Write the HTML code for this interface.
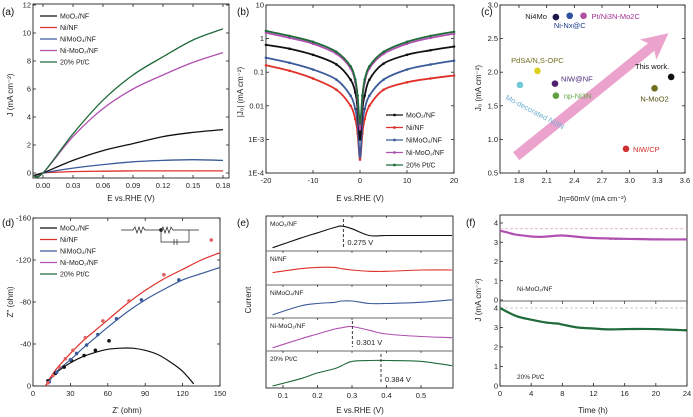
<!DOCTYPE html>
<html><head><meta charset="utf-8"><style>
html,body{margin:0;padding:0;background:#fff}
svg{display:block;font-family:"Liberation Sans",sans-serif}
</style></head><body>
<svg id="fig" width="693" height="417" viewBox="0 0 693 417" xmlns="http://www.w3.org/2000/svg"></svg>
<script>
// ---------- DATA ----------
// (a) LSV
const aX=[-0.01,0,0.03,0.06,0.09,0.12,0.15,0.18];
const aPtC=[-0.2,0,2.8,5.2,7.0,8.3,9.5,10.3];
const aNiMoO2=[-0.2,0,2.6,4.6,6.0,7.0,7.9,8.6];
const aMoO2=[-0.2,0,0.9,1.6,2.1,2.6,2.9,3.1];
const aNiMoO2NF=[-0.2,0,0.35,0.6,0.8,0.9,0.95,0.9];
const aNiNF=[-0.2,0,0.1,0.13,0.15,0.15,0.15,0.15];
const aXTicks=[0,0.03,0.06,0.09,0.12,0.15,0.18];
const aXLabels=["0.00","0.03","0.06","0.09","0.12","0.15","0.18"];
const aYTicks=[0,2,4,6,8,10,12];
// (b) log
const bX=[-20,-15,-10,-5,-2,-1,-0.5,0,0.5,1,2,5,10,15,20];
const bPtC=[1.7,1.2,0.8,0.4,0.15,0.06,0.02,0.003,0.02,0.06,0.15,0.4,0.8,1.2,1.6];
const bNiMoO2=[1.5,1.05,0.7,0.35,0.13,0.05,0.015,0.002,0.015,0.05,0.13,0.35,0.7,1.05,1.4];
const bMoO2=[0.65,0.5,0.33,0.17,0.06,0.025,0.008,0.001,0.008,0.02,0.06,0.18,0.33,0.45,0.58];
const bNiMoO2NF=[0.27,0.19,0.12,0.06,0.02,0.008,0.003,0.0003,0.003,0.008,0.02,0.06,0.12,0.17,0.22];
const bNiNF=[0.16,0.11,0.065,0.03,0.01,0.004,0.0015,0.00025,0.0015,0.004,0.01,0.03,0.05,0.065,0.08];
const bXTicks=[-20,-10,0,10,20];
const bYTicks=[10,1,0.1,0.01,0.001,0.0001];
const bYLabels=["10","1","0.1","0.01","1E-3","1E-4"];
// (c) scatter
const cNames=["Ni4Mo","Ni-Nx@C","Pt/Ni3N-Mo2C","PdSA/N,S-OPC","NiW@NF","Mo-decorated Ni3N","np-Ni3N","This work.","N-MoO2","NiW/CP"];
const cXv=[2.2,2.35,2.5,2.0,2.19,1.81,2.2,3.45,3.27,2.96];
const cYv=[2.82,2.84,2.84,2.02,1.83,1.81,1.65,1.93,1.76,0.86];
const cArrowX=[1.77,3.42];
const cArrowY=[0.75,2.58];
const cXTicks=[1.8,2.1,2.4,2.7,3.0,3.3,3.6];
const cYTicks=[0.5,1.0,1.5,2.0,2.5,3.0];
// (d) Nyquist
const dFitX=[10,15,20,30,40,50,60,75,90,105,120,135,150];
const dFitRed=[0,-10,-18,-31,-43,-53,-63,-78,-91,-102,-111,-120,-127];
const dFitBlue=[0,-8,-15,-25,-36,-46,-56,-70,-82,-92,-101,-107,-113];
const dBlkX=[10,15,20,30,40,50,60,70,80,90,100,110,120,129];
const dBlkY=[0,-8,-14,-22,-28,-32,-35,-36,-36,-34,-30,-23,-14,-2];
const dMoX=[12,18,25,31,41,50,61];
const dMoY=[-5,-12,-18,-24,-29,-34,-43];
const dRedX=[12,16,21,26,32,42,56,77,105,143];
const dRedY=[-3,-10,-18,-26,-34,-46,-62,-81,-106,-139];
const dBlueX=[13,19,30,35,43,52,67,87,117];
const dBlueY=[-4,-13,-25,-31,-39,-49,-64,-82,-101];
const dXTicks=[0,30,60,90,120,150];
const dYTicks=[0,-40,-80,-120,-160];
// (e) CV stack
const eX=[0.07,0.15,0.2,0.25,0.27,0.3,0.35,0.4,0.5,0.59];
const eMoO2=[0.05,0.4,0.6,0.8,0.85,0.75,0.5,0.5,0.5,0.5];
const eNiNF=[0.4,0.55,0.6,0.6,0.55,0.5,0.45,0.45,0.5,0.5];
const eNiMoO2NF=[0.05,0.4,0.5,0.55,0.6,0.6,0.5,0.5,0.55,0.65];
const eNiMoO2=[0.05,0.4,0.6,0.8,0.85,0.9,0.75,0.6,0.5,0.45];
const ePtC=[0.0,0.25,0.45,0.6,0.7,0.85,0.88,0.88,0.85,0.7];
const ePeaks=[0.275,0.301,0.384];
const eXTicks=[0.1,0.2,0.3,0.4,0.5];
// (f) stability
const fT1=[0,1,2,4,5,6,8,10,12,16,20,24];
const fJ1=[3.6,3.5,3.4,3.3,3.28,3.3,3.35,3.28,3.22,3.18,3.15,3.15];
const fT2=[0,2,4,6,7.5,8,10,12,14,16,20,24];
const fJ2=[4.0,3.6,3.4,3.25,3.2,3.15,3.0,2.95,2.9,2.92,2.92,2.85];
const fXTicks=[0,4,8,12,16,20,24];
const fYTicks=[0,1,2,3,4];

// ---------- HELPERS ----------
const NS="http://www.w3.org/2000/svg";
const svg=document.getElementById('fig');
function mk(tag,attrs,parent){const e=document.createElementNS(NS,tag);for(const k in attrs)e.setAttribute(k,attrs[k]);(parent||svg).appendChild(e);return e;}
function txt(x,y,s,size,anchor,fill,parent){const t=mk('text',{x:x,y:y,'font-size':size,'text-anchor':anchor||'start',fill:fill||'#222'},parent);t.textContent=s;return t;}
function lin(d0,d1,r0,r1){return v=>r0+(v-d0)*(r1-r0)/(d1-d0);}
function poly(xs,ys,sx,sy,color,w,parent,name){
const P=xs.map((x,i)=>[sx(x),sy(ys[i])]);
let d='M'+P[0][0].toFixed(1)+','+P[0][1].toFixed(1);
for(let i=0;i<P.length-1;i++){const p0=P[i-1]||P[i],p1=P[i],p2=P[i+1],p3=P[i+2]||p2;
const c1=[p1[0]+(p2[0]-p0[0])/6,p1[1]+(p2[1]-p0[1])/6],c2=[p2[0]-(p3[0]-p1[0])/6,p2[1]-(p3[1]-p1[1])/6];
d+=' C'+c1.map(v=>v.toFixed(1)).join(',')+' '+c2.map(v=>v.toFixed(1)).join(',')+' '+p2.map(v=>v.toFixed(1)).join(',');}
const e=mk('path',{d:d,fill:'none',stroke:color,'stroke-width':w||1.2},parent);

return e;}
function box(x0,y0,x1,y1,name){const r=mk('rect',{x:x0,y:y0,width:x1-x0,height:y1-y0,fill:'none',stroke:'#222','stroke-width':0.9});}
function xt(ticks,labels,sx,yb,ytop){ticks.forEach((t,i)=>{const x=sx(t);mk('line',{x1:x,y1:yb,x2:x,y2:yb-3,stroke:'#222','stroke-width':0.8});if(ytop!==undefined)mk('line',{x1:x,y1:ytop,x2:x,y2:ytop+3,stroke:'#222','stroke-width':0.8});const l=txt(x,yb+10,labels?labels[i]:String(t),7.5,'middle');});}
function yt(ticks,labels,sy,xl,xr){ticks.forEach((t,i)=>{const y=sy(t);mk('line',{x1:xl,y1:y,x2:xl+3,y2:y,stroke:'#222','stroke-width':0.8});if(xr!==undefined)mk('line',{x1:xr,y1:y,x2:xr-3,y2:y,stroke:'#222','stroke-width':0.8});const l=txt(xl-2,y+2.5,labels?labels[i]:String(t),7.5,'end');});}
function plabel(x,y,s){const t=txt(x,y,s,10,'start','#111');}
function legend(x,y,items,dy){items.forEach((it,i)=>{const g=mk('g',{});mk('line',{x1:x,y1:y+i*dy,x2:x+17,y2:y+i*dy,stroke:it[1],'stroke-width':1.3},g);if(it[2])mk('circle',{cx:x+8.5,cy:y+i*dy,r:1.4,fill:it[1]},g);txt(x+20,y+i*dy+2.5,it[0],7,'start','#222',g);});}
const C={blk:'#111',red:'#e0302a',blue:'#3a5a9a',pink:'#b050b0',green:'#1f6b3a'};

// ---------- (a) ----------
{const sx=lin(0,0.18,43,223),sy=lin(0,12,173,5);
box(33,4,229,178,'plot-area-a');
xt(aXTicks,aXLabels,sx,178,4);yt(aYTicks,null,sy,33,229);
poly(aX,aNiNF,sx,sy,C.red,1.3,null,'series-ni-nf');
poly(aX,aNiMoO2NF,sx,sy,C.blue,1.3,null,'series-nimoo4-nf');
poly(aX,aMoO2,sx,sy,C.blk,1.3,null,'series-moo2-nf');
poly(aX,aNiMoO2,sx,sy,C.pink,1.3,null,'series-ni-moo2-nf');
poly(aX,aPtC,sx,sy,C.green,1.3,null,'series-ptc');
legend(40,16,[["MoO\u2082/NF",C.blk],["Ni/NF",C.red],["NiMoO\u2084/NF",C.blue],["Ni-MoO\u2082/NF",C.pink],["20% Pt/C",C.green]],11.5);
plabel(2,15,'(a)');
const t=txt(131,201,'E vs.RHE (V)',8,'middle');
const y=txt(13,95,'J (mA cm\u207B\u00B2)',8,'middle');y.setAttribute('transform','rotate(-90 13 95)');}

// ---------- (b) ----------
{const sx=lin(-20,20,266,454),lg=lin(1,-4,5,173),sy=v=>lg(Math.log10(v));
box(266,5,454,173,'plot-area-b');
xt(bXTicks,null,sx,173,5);yt(bYTicks,bYLabels,sy,266,454);
[[bNiNF,C.red,'series-ni-nf'],[bNiMoO2NF,C.blue,'series-nimoo4-nf'],[bMoO2,C.blk,'series-moo2-nf'],[bNiMoO2,C.pink,'series-ni-moo2-nf'],[bPtC,C.green,'series-ptc']].forEach(s=>{
poly(bX,s[0],sx,sy,s[1],1.8,null,s[2]);
bX.forEach((x,i)=>{const c=mk('circle',{cx:sx(x),cy:sy(s[0][i]),r:1.3,fill:s[1]});});});
legend(386,115,[["MoO\u2082/NF",C.blk,1],["Ni/NF",C.red,1],["NiMoO\u2084/NF",C.blue,1],["Ni-MoO\u2082/NF",C.pink,1],["20% Pt/C",C.green,1]],12.5);
plabel(237,15,'(b)');
const t=txt(360,201,'E vs.RHE (V)',8,'middle');
const y=txt(243,92,'|J\u2080| (mA cm\u207B\u00B2)',8,'middle');y.setAttribute('transform','rotate(-90 243 92)');}

// ---------- (c) ----------
{const sx=lin(1.8,3.6,519,685),sy=lin(0.5,3.0,173,5);
box(500,5,685,173,'plot-area-c');
xt(cXTicks,cXTicks.map(v=>v.toFixed(1)),sx,173,5);yt(cYTicks,cYTicks.map(v=>v.toFixed(1)),sy,500,685);
const x0=sx(cArrowX[0]),y0=sy(cArrowY[0]),x1=sx(cArrowX[1]),y1=sy(cArrowY[1]);
const L=Math.hypot(x1-x0,y1-y0),ux=(x1-x0)/L,uy=(y1-y0)/L,nx=-uy,ny=ux;
const hw=5,hh=22,hb=13;
const bx=x1-ux*hh,by=y1-uy*hh;
const pts=[[x0+nx*hw,y0+ny*hw],[bx+nx*hw,by+ny*hw],[bx-ux*4+nx*hb,by-uy*4+ny*hb],[x1,y1],[bx-ux*4-nx*hb,by-uy*4-ny*hb],[bx-nx*hw,by-ny*hw],[x0-nx*hw,y0-ny*hw]];
const ar=mk('polygon',{points:pts.map(p=>p[0].toFixed(1)+','+p[1].toFixed(1)).join(' '),fill:'#e070b0','fill-opacity':0.65});

const cols=['#1a1a4a','#3050a0','#b050a0','#e0d020','#502070','#70c8d8','#60a040','#111','#707020','#d03030'];
const lab=[[-9,2,'end','#222'],[0,12,'middle','#1a3a8a'],[8,3,'start','#a03090'],[0,-8,'middle','#707020'],[6,-2,'start','#503080'],[-15,14,'start','#70b0d0'],[8,3,'start','#60a040'],[-2,-8,'end','#111'],[0,13,'middle','#505010'],[7,3,'start','#d03030']];
cNames.forEach((n,i)=>{const g=mk('g',{});
mk('circle',{cx:sx(cXv[i]),cy:sy(cYv[i]),r:3.3,fill:cols[i]},g);
const l=lab[i];const t=txt(sx(cXv[i])+l[0],sy(cYv[i])+l[1],n,7.5,l[2],l[3],g);if(i==5)t.setAttribute('transform','rotate(28 '+(sx(cXv[i])+l[0])+' '+(sy(cYv[i])+l[1])+')');});
plabel(481,15,'(c)');
const t=txt(592,201,'J\u03B7=60mV (mA cm\u207B\u00B2)',7.5,'middle');
const y=txt(481,88,'J\u2080 (mA cm\u207B\u00B2)',8,'middle');y.setAttribute('transform','rotate(-90 481 88)');}

// ---------- (d) ----------
{const sx=lin(0,150,33,220),sy=lin(0,-160,386,218);
box(33,218,220,386,'plot-area-d');
xt(dXTicks,null,sx,386,218);yt(dYTicks,null,sy,33,220);
poly(dBlkX,dBlkY,sx,sy,C.blk,1.2,null,'fit-moo2-nf');
poly(dFitX,dFitBlue,sx,sy,C.blue,1.2,null,'fit-nimoo4-nf');
poly(dFitX,dFitRed,sx,sy,C.red,1.2,null,'fit-ni-nf');
[[dMoX,dMoY,C.blk],[dBlueX,dBlueY,C.blue],[dRedX,dRedY,'#e06060']].forEach(s=>s[0].forEach((x,i)=>{const c=mk('circle',{cx:sx(x),cy:sy(s[1][i]),r:1.8,fill:s[2]});}));
legend(40,228,[["MoO\u2082/NF",C.blk],["Ni/NF",C.red],["NiMoO\u2084/NF",C.blue],["Ni-MoO\u2082/NF",C.pink],["20% Pt/C",C.green]],11.5);
const g=mk('g',{stroke:'#222','stroke-width':0.7,fill:'none'});
mk('polyline',{points:'121,230 133,230 135,227 137,233 139,227 141,233 143,227 145,230 161,230 163,227 165,233 167,227 169,233 171,227 173,230 186,230 186,230 199,230'},g);
mk('polyline',{points:'161,230 161,242 189,242 189,230'},g);
mk('line',{x1:174,y1:239,x2:174,y2:245},g);mk('line',{x1:177,y1:239,x2:177,y2:245},g);
mk('circle',{cx:161,cy:230,r:1.5,fill:'#222'},g);
plabel(2,226,'(d)');
const t=txt(127,413,"Z' (ohm)",8,'middle');
const y=txt(13,302,"Z'' (ohm)",8,'middle');y.setAttribute('transform','rotate(-90 13 302)');}

// ---------- (e) ----------
{const sx=lin(0.1,0.5,283,421);
box(266,216,453,388,'plot-area-e');
const bands=[[216,251],[251,285],[285,318],[318,351],[351,388]];
const series=[[eMoO2,C.blk,'MoO\u2082/NF'],[eNiNF,C.red,'Ni/NF'],[eNiMoO2NF,C.blue,'NiMoO\u2084/NF'],[eNiMoO2,C.pink,'Ni-MoO\u2082/NF'],[ePtC,C.green,'20% Pt/C']];
series.forEach((s,i)=>{const b=bands[i];const sy=lin(0,1,b[1]-2,b[0]+6);
if(i>0)mk('line',{x1:266,y1:b[0],x2:453,y2:b[0],stroke:'#888','stroke-width':1.2});
eXTicks.forEach(t=>mk('line',{x1:sx(t),y1:b[0],x2:sx(t),y2:b[0]+2,stroke:'#222','stroke-width':0.7}));
poly(eX,s[0],sx,sy,s[1],1.1,null,'cv-curve');
const l=txt(270,b[0]+10,s[2],6.5,'start','#222');});
const pk=[[0,ePeaks[0]],[3,ePeaks[1]],[4,ePeaks[2]]];
pk.forEach(p=>{const b=bands[p[0]];const x=sx(p[1]);
mk('line',{x1:x,y1:b[0]+3,x2:x,y2:b[1]-4,stroke:'#222','stroke-width':0.9,'stroke-dasharray':'3,2'});
const t=txt(x+4,b[1]-6,p[1].toFixed(3)+' V',7.5,'start','#222');});
xt(eXTicks,null,sx,388);
plabel(237,226,'(e)');
const t=txt(360,413,'E vs.RHE (V)',8,'middle');
const y=txt(251,300,'Current',8,'middle');y.setAttribute('transform','rotate(-90 251 300)');}

// ---------- (f) ----------
{const sx=lin(0,24,500,687),sy1=lin(0,4,300,223),sy2=lin(0,4,386,308);
box(500,215,687,386,'plot-area-f');
mk('line',{x1:500,y1:301,x2:687,y2:301,stroke:'#888','stroke-width':1.2});
xt(fXTicks,null,sx,386);fXTicks.forEach(t=>mk('line',{x1:sx(t),y1:301,x2:sx(t),y2:304,stroke:'#222','stroke-width':0.7}));
yt(fYTicks,null,sy1,500);yt(fYTicks,null,sy2,500);
mk('line',{x1:500,y1:sy1(3.7),x2:687,y2:sy1(3.7),stroke:'#e0a0c0','stroke-width':0.8,'stroke-dasharray':'3,2'});
mk('line',{x1:sx(14),y1:sy1(3.15),x2:687,y2:sy1(3.15),stroke:'#444','stroke-width':0.8,'stroke-dasharray':'3,2'});
mk('line',{x1:500,y1:sy2(4.0),x2:687,y2:sy2(4.0),stroke:'#bbb','stroke-width':0.8,'stroke-dasharray':'3,2'});
mk('line',{x1:sx(14),y1:sy2(2.9),x2:687,y2:sy2(2.9),stroke:'#444','stroke-width':0.8,'stroke-dasharray':'3,2'});
poly(fT1,fJ1,sx,sy1,C.pink,2.2,null,'stability-ni-moo2-nf');
poly(fT2,fJ2,sx,sy2,C.green,2.2,null,'stability-ptc');
const a=txt(517,291,'Ni-MoO\u2082/NF',6.5,'start','#222');
const b=txt(517,379,'20% Pt/C',6.5,'start','#222');
plabel(466,226,'(f)');
const t=txt(593,413,'Time (h)',8,'middle');
const y=txt(481,300,'J (mA cm\u207B\u00B2)',8,'middle');y.setAttribute('transform','rotate(-90 481 300)');}
</script>
</body></html>
